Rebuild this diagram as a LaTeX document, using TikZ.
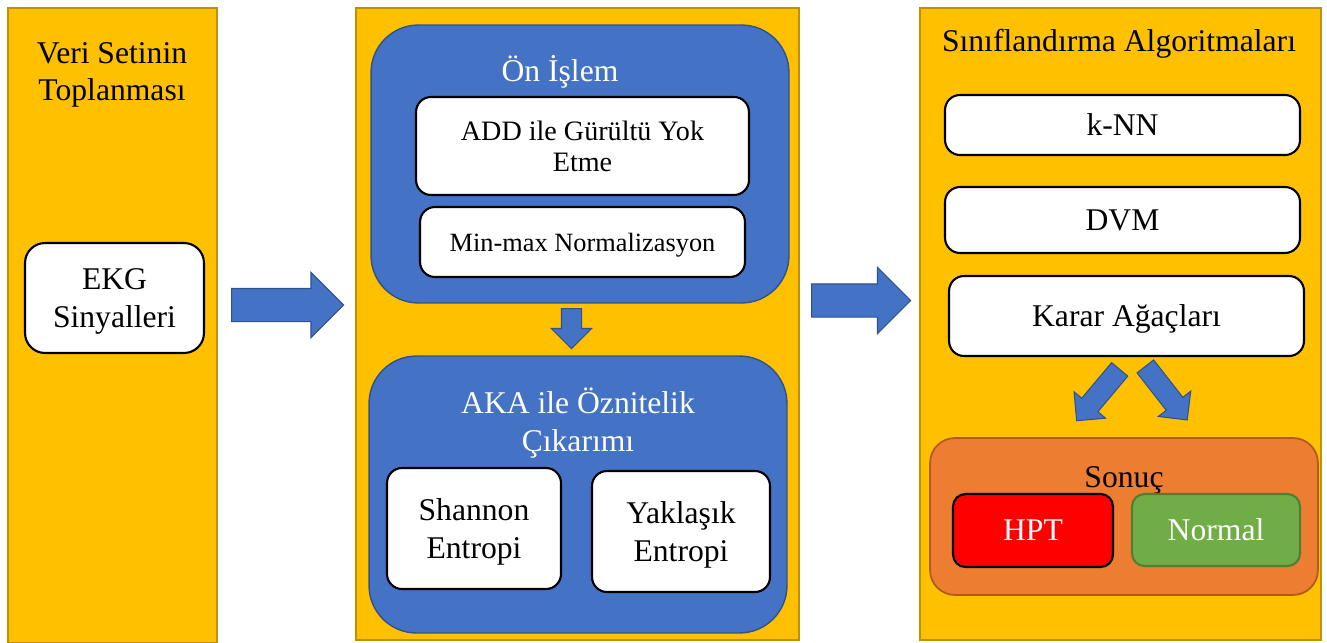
\documentclass[tikz,border=0pt]{standalone}
\usepackage{fontspec}
\setmainfont{Liberation Serif}
\usepackage{tikz}
\usetikzlibrary{shapes.arrows}
\definecolor{panelyellow}{HTML}{FFC000}
\definecolor{paneledge}{HTML}{BF9000}
\definecolor{stageblue}{HTML}{4472C4}
\definecolor{blueedge}{HTML}{2F528F}
\definecolor{resorange}{HTML}{ED7D31}
\definecolor{orangeedge}{HTML}{AE5A21}
\definecolor{normgreen}{HTML}{70AD47}
\definecolor{greenedge}{HTML}{507E32}

\begin{document}
\begin{tikzpicture}[x=0.02cm,y=-0.02cm,
  bigfont/.style={font=\fontsize{18}{21.5}\selectfont},
  panel/.style={draw=paneledge,line width=1.2pt,fill=panelyellow,inner sep=0},
  bluestage/.style={draw=blueedge,line width=0.8pt,fill=stageblue,rounded corners=0.95cm,inner sep=0},
  whitebox/.style={draw=black,line width=1.2pt,fill=white,rounded corners=0.3cm,align=center,inner sep=0,text depth=-2pt,bigfont},
  headtext/.style={align=center,bigfont},
  blockarrow/.style 2 args={single arrow,draw=blueedge,line width=0.6pt,fill=stageblue,inner xsep=0,inner ysep=#1,single arrow head extend=#2,anchor=tail}]
\useasboundingbox (0,0) rectangle (1327,642);

\node[panel,minimum width=4.18cm,minimum height=12.7cm] (veri) at (112.5,325.5) {};
\node[panel,minimum width=8.86cm,minimum height=12.64cm] (oznitelik) at (577.5,324) {};
\node[panel,minimum width=8.02cm,minimum height=12.64cm] (sinif) at (1120.5,324) {};

\node[headtext] (veritit) at (112,75) {Veri Setinin\\Toplanması};
\node[whitebox,minimum width=3.58cm,minimum height=2.2cm,rounded corners=0.4cm] (ekg) at (114.5,298) {EKG\\Sinyalleri};

\node[bluestage,minimum width=8.36cm,minimum height=5.56cm] (onislem) at (580,164) {};
\node[headtext,text=white] (ontit) at (560,72) {Ön İşlem};
\node[whitebox,minimum width=6.66cm,minimum height=1.96cm,font=\fontsize{16}{17.6}\selectfont] (add) at (582.5,146) {ADD ile Gürültü Yok\\Etme};
\node[whitebox,minimum width=6.5cm,minimum height=1.4cm,font=\fontsize{15}{18}\selectfont] (minmax) at (582.5,242) {Min-max Normalizasyon};

\node[bluestage,minimum width=8.36cm,minimum height=5.54cm] (aka) at (578,494.5) {};
\node[headtext,text=white] (akatit) at (578,423) {AKA ile Öznitelik\\Çıkarımı};
\node[whitebox,minimum width=3.48cm,minimum height=2.42cm,font=\fontsize{18}{22}\selectfont] (shannon) at (474,528.5) {Shannon\\Entropi};
\node[whitebox,minimum width=3.56cm,minimum height=2.42cm,font=\fontsize{18}{22}\selectfont] (yaklasik) at (681,531.5) {Yaklaşık\\Entropi};

\node[headtext] (siniftit) at (1119,44) {Sınıflandırma Algoritmaları};
\node[whitebox,minimum width=7.1cm,minimum height=1.2cm] (knn) at (1122.5,125) {k-NN};
\node[whitebox,minimum width=7.1cm,minimum height=1.32cm] (dvm) at (1122.5,220) {DVM};
\node[whitebox,minimum width=7.1cm,minimum height=1.6cm] (karar) at (1126.5,316) {Karar Ağaçları};

\node[draw=orangeedge,line width=1pt,fill=resorange,rounded corners=0.5cm,minimum width=7.76cm,minimum height=3.14cm] (sonuc) at (1124,516.5) {};
\node[headtext] (sonuctit) at (1124,480) {Sonuç};
\node[whitebox,fill=red,text=white,minimum width=3.2cm,minimum height=1.46cm,rounded corners=0.25cm] (hpt) at (1033,530.5) {HPT};
\node[whitebox,draw=greenedge,fill=normgreen,text=white,minimum width=3.36cm,minimum height=1.44cm,rounded corners=0.25cm] (normal) at (1216,530) {Normal};

\node[blockarrow={0.32cm}{0.32cm},minimum height=2.24cm] (arrA) at (231,305) {};
\node[blockarrow={0.32cm}{0.33cm},minimum height=1.98cm] (arrB) at (811,300.5) {};
\node[blockarrow={0.19cm}{0.2cm},minimum height=0.8cm,rotate=270] (arrC) at (571.5,308) {};
\node[blockarrow={0.2cm}{0.2cm},minimum height=1.34cm,rotate=230] (arrD) at (1120,369) {};
\node[blockarrow={0.2cm}{0.2cm},minimum height=1.36cm,rotate=308] (arrE) at (1145,366) {};
\end{tikzpicture}
\end{document}
